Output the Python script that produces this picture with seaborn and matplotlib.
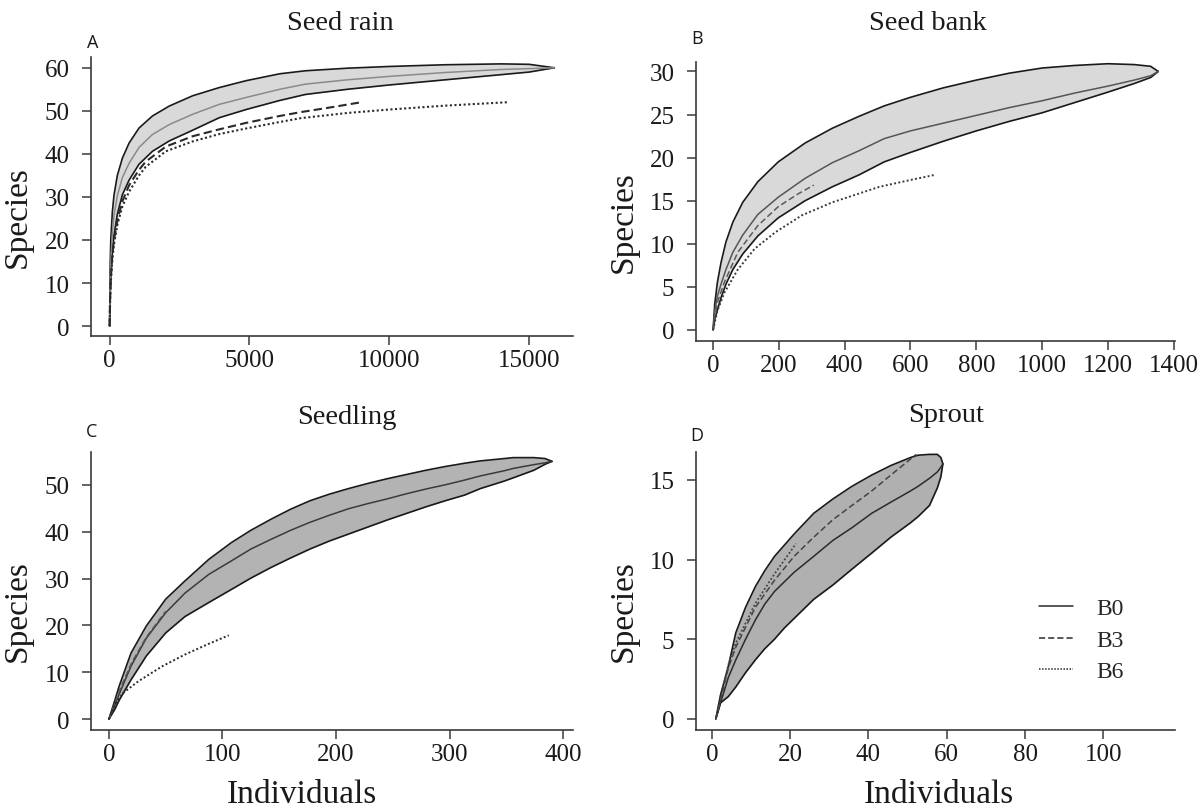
import numpy as np
import pandas as pd
import matplotlib
matplotlib.use("Agg")
import matplotlib.pyplot as plt
import seaborn as sns
from matplotlib.lines import Line2D

# ---------------- data ----------------
# Panel A : Seed rain
A_x     = [0, 15, 40, 96, 155, 275, 455, 694, 1050, 1530, 2130, 2970, 3920, 4880, 6080, 7000, 8500, 10000, 12000, 14000, 15000, 15900]
A_upper = [0, 13, 20, 26.5, 30.4, 35.0, 39.0, 42.5, 46.0, 48.8, 51.1, 53.5, 55.4, 57.0, 58.6, 59.3, 59.9, 60.3, 60.7, 60.9, 60.8, 60.0]
A_mean  = [0, 9, 15, 21.5, 25.7, 30.3, 34.5, 37.8, 41.5, 44.5, 46.8, 49.2, 51.5, 53.1, 55.0, 56.2, 57.2, 58.0, 58.9, 59.6, 59.8, 60.0]
A_lower = [0, 6, 11, 17.0, 21.0, 26.0, 30.5, 33.9, 37.6, 40.6, 43.0, 45.5, 48.4, 50.3, 52.4, 53.8, 55.0, 56.0, 57.2, 58.4, 59.0, 60.0]
A_b3_x  = [0, 15, 40, 96, 155, 275, 455, 694, 1050, 1290, 2010, 2970, 3920, 4880, 6080, 6835, 8000, 9000]
A_b3_y  = [0, 6, 11, 16.5, 20, 24.5, 29, 32.7, 36.3, 38.2, 41.7, 44.1, 45.7, 47.2, 48.8, 49.7, 50.9, 52.0]
A_b6_x  = [0, 15, 40, 96, 155, 275, 455, 694, 1050, 1290, 2010, 2970, 3920, 4880, 6080, 6835, 8500, 10000, 12000, 14240]
A_b6_y  = [0, 5.5, 10, 15.5, 19, 23.5, 27.8, 31.2, 35, 37, 40.6, 42.9, 44.6, 45.9, 47.4, 48.3, 49.5, 50.3, 51.2, 52.0]

# Panel B : Seed bank
B_x     = [0, 5, 13, 24, 39, 60, 90, 136, 198, 280, 362, 444, 520, 600, 700, 800, 900, 1000, 1100, 1200, 1280, 1330, 1353]
B_upper = [0, 3.0, 5.5, 7.8, 10.2, 12.5, 14.8, 17.2, 19.5, 21.7, 23.4, 24.8, 26.0, 27.0, 28.1, 29.0, 29.8, 30.4, 30.7, 30.9, 30.8, 30.6, 30.0]
B_mean  = [0, 2.2, 3.9, 5.3, 7.0, 9.0, 11.0, 13.4, 15.4, 17.6, 19.4, 20.8, 22.2, 23.1, 24.0, 24.9, 25.8, 26.6, 27.5, 28.3, 29.0, 29.5, 30.0]
B_lower = [0, 1.2, 2.3, 3.7, 5.3, 7.0, 8.8, 10.9, 13.0, 15.0, 16.6, 18.0, 19.5, 20.6, 21.9, 23.1, 24.2, 25.2, 26.4, 27.6, 28.6, 29.3, 30.0]
B_b3_x  = [0, 13, 34, 75, 136, 198, 259, 306]
B_b3_y  = [0, 3.2, 5.5, 9.0, 12.1, 14.3, 15.8, 16.8]
B_b6_x  = [0, 13, 34, 75, 126, 188, 270, 362, 505, 600, 675]
B_b6_y  = [0, 2.2, 4.3, 7.0, 9.4, 11.3, 13.3, 14.8, 16.6, 17.4, 18.0]

# Panel C : Seedling
C_x     = [0, 5, 9, 19.5, 33, 50, 67, 88, 108, 125, 143, 160, 177, 194, 211, 228, 245, 262, 279, 296, 313, 327, 348, 356, 374, 384, 390]
C_upper = [0, 3.8, 7, 14.1, 19.9, 25.6, 29.5, 34.1, 37.7, 40.3, 42.7, 44.8, 46.6, 48.0, 49.2, 50.3, 51.3, 52.2, 53.1, 53.9, 54.6, 55.1, 55.6, 55.8, 55.8, 55.6, 55.0]
C_mean  = [0, 2.8, 5.3, 11.3, 17.3, 22.7, 26.9, 30.9, 33.8, 36.3, 38.4, 40.3, 42.0, 43.5, 44.9, 46.0, 47.0, 48.1, 49.1, 50.0, 51.0, 51.9, 53.0, 53.5, 54.3, 54.7, 55.0]
C_lower = [0, 2.0, 4.0, 8.4, 13.5, 18.4, 21.9, 24.9, 27.7, 30.1, 32.4, 34.4, 36.3, 38.0, 39.5, 41.0, 42.5, 43.9, 45.3, 46.6, 47.8, 49.2, 50.8, 51.5, 53.1, 54.4, 55.0]
C_b3_x  = [0, 10, 20, 33, 50]
C_b3_y  = [0, 6.5, 12, 17.5, 23]
C_b6_x  = [0, 6, 12.6, 26, 47, 67, 88, 105.6]
C_b6_y  = [0, 3.4, 5.6, 8.1, 11.3, 13.8, 16.1, 17.9]

# Panel D : Sprout
D_x     = [1, 2.2, 4.2, 6.1, 8.6, 11.1, 13.5, 16, 18.5, 21, 26, 30.9, 35.8, 40.8, 45.7, 50.7, 52.7, 55.6, 57.6, 58.5, 59]
D_upper = [0, 1.5, 3.3, 5.4, 7.0, 8.3, 9.3, 10.2, 10.9, 11.6, 12.9, 13.8, 14.6, 15.3, 15.9, 16.4, 16.55, 16.6, 16.6, 16.4, 16.0]
D_mean  = [0, 1.0, 2.6, 3.7, 5.0, 6.2, 7.2, 8.0, 8.6, 9.2, 10.2, 11.2, 12.0, 12.9, 13.6, 14.3, 14.6, 15.1, 15.5, 15.8, 16.0]
D_lower = [0, 1.0, 1.4, 2.0, 2.9, 3.7, 4.4, 5.0, 5.7, 6.3, 7.5, 8.4, 9.4, 10.4, 11.4, 12.3, 12.7, 13.4, 14.5, 15.2, 16.0]
D_b3_x  = [1, 4.2, 6.1, 11.1, 16, 21, 26, 30.9, 35.8, 40.8, 45.7, 52.2]
D_b3_y  = [0, 3.2, 4.5, 7.0, 8.7, 10.2, 11.4, 12.5, 13.4, 14.3, 15.3, 16.6]
D_b6_x  = [1, 4.2, 6.1, 11.1, 16, 21.5]
D_b6_y  = [0, 3.4, 4.75, 7.25, 9.1, 11.0]

titles  = ["Seed rain", "Seed bank", "Seedling", "Sprout"]
letters = ["A", "B", "C", "D"]
legend_labels = ["B0", "B3", "B6"]

# ---------------- style ----------------
sns.set_theme(style="ticks")
plt.rcParams['font.family'] = ['Liberation Serif', 'DejaVu Serif']
plt.rcParams['axes.linewidth'] = 1.2
plt.rcParams['axes.edgecolor'] = '#3a3a3a'

fig = plt.figure(figsize=(12.01, 8.12), dpi=100)
W, H = 1201.0, 812.0

def axrect(l, r, t, b):
    return [l / W, 1 - b / H, (r - l) / W, (b - t) / H]

rects = [axrect(91, 573, 58, 337), axrect(696, 1175, 63, 342),
         axrect(91, 573, 453, 731), axrect(696, 1175, 453, 731)]

panels = [
    dict(x=A_x, up=A_upper, mu=A_mean, lo=A_lower, b3x=A_b3_x, b3y=A_b3_y, b6x=A_b6_x, b6y=A_b6_y,
         fill='#d9d9d9', mcol='#8a8a8a', b3col='#2a2a2a', b6col='#2a2a2a', b3lw=1.5, b6lw=1.5,
         xlim=(-667, 16569), ylim=(-2.3, 62.5), xt=[0, 5000, 10000, 15000], yt=range(0, 61, 10)),
    dict(x=B_x, up=B_upper, mu=B_mean, lo=B_lower, b3x=B_b3_x, b3y=B_b3_y, b6x=B_b6_x, b6y=B_b6_y,
         fill='#d9d9d9', mcol='#555555', b3col='#5a5a5a', b6col='#3a3a3a', b3lw=1.1, b6lw=1.4,
         xlim=(-52, 1404), ylim=(-1.3, 31.1), xt=range(0, 1401, 200), yt=range(0, 31, 5)),
    dict(x=C_x, up=C_upper, mu=C_mean, lo=C_lower, b3x=C_b3_x, b3y=C_b3_y, b6x=C_b6_x, b6y=C_b6_y,
         fill='#b3b3b3', mcol='#3a3a3a', b3col='#555555', b6col='#2a2a2a', b3lw=1.1, b6lw=1.4,
         xlim=(-15.7, 408.5), ylim=(-2.3, 57), xt=range(0, 401, 100), yt=range(0, 51, 10)),
    dict(x=D_x, up=D_upper, mu=D_mean, lo=D_lower, b3x=D_b3_x, b3y=D_b3_y, b6x=D_b6_x, b6y=D_b6_y,
         fill='#b0b0b0', mcol='#2a2a2a', b3col='#444444', b6col='#444444', b3lw=1.1, b6lw=1.3,
         xlim=(-4.06, 118.3), ylim=(-0.7, 16.75), xt=range(0, 101, 20), yt=[0, 5, 10, 15]),
]

title_pos = [(340, 24), (928, 24), (347, 418), (946, 416)]
letter_pos = [(93, 43), (697, 39), (92, 432), (697, 436)]
xlabel_x = [None, None, 0.438, 0.507]

for i, (p, rect) in enumerate(zip(panels, rects)):
    ax = fig.add_axes(rect)
    ax.set_facecolor('white')
    ax.fill_between(p['x'], p['lo'], p['up'], color=p['fill'], linewidth=0, zorder=1)
    band = pd.DataFrame({'Individuals': p['x'], 'upper': p['up'], 'mean': p['mu'], 'lower': p['lo']})
    sns.lineplot(data=band, x='Individuals', y='upper', ax=ax, color='#1a1a1a', linewidth=1.2,
                 estimator=None, sort=False, zorder=3)
    sns.lineplot(data=band, x='Individuals', y='lower', ax=ax, color='#1a1a1a', linewidth=1.2,
                 estimator=None, sort=False, zorder=3)
    sns.lineplot(data=band, x='Individuals', y='mean', ax=ax, color=p['mcol'], linewidth=1.1,
                 estimator=None, sort=False, zorder=3)
    b3 = pd.DataFrame({'Individuals': p['b3x'], 'Species': p['b3y']})
    sns.lineplot(data=b3, x='Individuals', y='Species', ax=ax, color=p['b3col'], linewidth=p['b3lw'],
                 estimator=None, sort=False, zorder=4)
    ax.lines[-1].set_dashes([4, 2])
    b6 = pd.DataFrame({'Individuals': p['b6x'], 'Species': p['b6y']})
    sns.lineplot(data=b6, x='Individuals', y='Species', ax=ax, color=p['b6col'], linewidth=p['b6lw'],
                 estimator=None, sort=False, zorder=4)
    ax.lines[-1].set_dashes([1, 1.2])

    ax.set_xlim(*p['xlim'])
    ax.set_ylim(*p['ylim'])
    ax.set_xticks(list(p['xt']))
    ax.set_yticks(list(p['yt']))
    ax.tick_params(axis='both', direction='out', length=6.5, width=1.1, color='#3a3a3a',
                   labelsize=18, labelcolor='#1a1a1a')
    ax.tick_params(axis='x', pad=3)
    ax.tick_params(axis='y', pad=9)
    sns.despine(ax=ax)
    ax.set_ylabel('Species', fontsize=24, color='#1a1a1a')
    ax.yaxis.set_label_coords(-0.12, 0.43)
    if i >= 2:
        ax.set_xlabel('Individuals', fontsize=24, color='#1a1a1a')
        ax.xaxis.set_label_coords(xlabel_x[i], -0.175)
    else:
        ax.set_xlabel('')

    tx, ty = title_pos[i]
    fig.text(tx / W, 1 - ty / H, titles[i], ha='center', va='center', fontsize=20.5, color='#1a1a1a')
    lx, ly = letter_pos[i]
    fig.text(lx / W, 1 - ly / H, letters[i], ha='center', va='center', fontsize=13,
             family=['Open Sans', 'DejaVu Sans'], color='#1a1a1a')

    if i == 3:
        handles = [Line2D([], [], color='#2a2a2a', lw=1.1),
                   Line2D([], [], color='#2a2a2a', lw=1.1, dashes=[4, 2]),
                   Line2D([], [], color='#2a2a2a', lw=1.1, dashes=[1, 1])]
        ax.legend(handles, legend_labels, frameon=False, fontsize=17, handlelength=1.44,
                  handletextpad=0.97, labelspacing=0.42, loc='center left',
                  bbox_to_anchor=(1039 / W, 1 - 641 / H), bbox_transform=fig.transFigure,
                  borderpad=0, borderaxespad=0)

fig.savefig('out.png', dpi=100, facecolor='white')
